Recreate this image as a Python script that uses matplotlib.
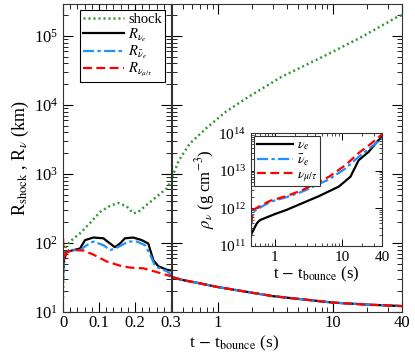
import numpy as np
import matplotlib
matplotlib.use("Agg")
import matplotlib.pyplot as plt
from matplotlib.ticker import AutoMinorLocator, LogLocator, NullFormatter, FixedLocator, FixedFormatter

plt.rcParams['font.family'] = ['Liberation Serif', 'DejaVu Serif']
plt.rcParams['mathtext.fontset'] = 'stix'
plt.rcParams['xtick.direction'] = 'in'
plt.rcParams['ytick.direction'] = 'in'
plt.rcParams['xtick.top'] = True
plt.rcParams['ytick.right'] = True

# ---- Data: early phase (linear time, s) ----
t_shock_early = [0.0, 0.001, 0.006, 0.019, 0.047, 0.075, 0.103, 0.131, 0.154, 0.177, 0.195, 0.209, 0.232, 0.26, 0.288, 0.3]
r_shock_early = [16, 40, 85, 105, 138, 195, 282, 347, 380, 339, 269, 282, 355, 468, 617, 780]

t_nue_early = [0.0, 0.002, 0.01, 0.029, 0.047, 0.061, 0.084, 0.112, 0.131, 0.144, 0.158, 0.172, 0.195, 0.219, 0.237, 0.251, 0.265, 0.288, 0.3]
r_nue_early = [40, 56, 74, 79, 83, 110, 120, 117, 98, 87, 98, 117, 120, 110, 98, 56, 46, 41, 40]

t_anue_early = [0.0, 0.002, 0.015, 0.047, 0.066, 0.084, 0.112, 0.131, 0.144, 0.163, 0.181, 0.205, 0.228, 0.242, 0.256, 0.288, 0.3]
r_anue_early = [29, 63, 79, 79, 93, 105, 93, 79, 83, 93, 105, 105, 93, 68, 46, 39, 35]

t_numu_early = [0.0, 0.002, 0.01, 0.029, 0.056, 0.084, 0.121, 0.158, 0.186, 0.223, 0.26, 0.3]
r_numu_early = [117, 56, 74, 79, 78, 68, 54, 47, 44, 43, 38, 33]

# ---- Data: late phase (log time, s) ----
t_shock_late = [0.4, 0.46, 0.57, 0.79, 1.17, 1.86, 3.61, 8.2, 17.1, 37.8, 40]
r_shock_late = [900, 1585, 2750, 4570, 7940, 13200, 25700, 50000, 93000, 195000, 200000]

t_nu_late = [0.4, 0.5, 0.7, 1.0, 2.0, 3.0, 5.0, 10.0, 20.0, 40.0]
r_nu_late = [32, 29, 26, 23, 19, 17, 15.5, 13.7, 12.8, 12.2]

# ---- Inset: neutrinosphere density ----
t_rho_nue = [0.44, 0.5, 0.54, 0.6, 1.0, 1.49, 2.5, 4.6, 9.0, 13.4, 17.8, 25.0, 35.0, 40.0]
lg_rho_nue = [11.3, 11.5, 11.61, 11.69, 11.85, 11.96, 12.13, 12.33, 12.58, 12.84, 13.28, 13.5, 13.81, 13.9]
t_rho_anue = [0.44, 0.47, 0.84, 1.5, 2.6, 6.4, 11.3, 17.8, 27.6, 40.0]
lg_rho_anue = [11.55, 11.91, 12.17, 12.3, 12.45, 12.77, 13.06, 13.37, 13.64, 13.86]
t_rho_numu = [0.44, 0.47, 0.84, 1.5, 2.6, 6.4, 11.3, 17.8, 27.6, 40.0]
lg_rho_numu = [11.6, 11.96, 12.2, 12.33, 12.49, 12.84, 13.15, 13.47, 13.73, 13.97]

early_xticks = [0, 0.1, 0.2, 0.3]
early_xticklabels = ['0', '0.1', '0.2', '0.3']
late_xticks = [1, 10, 40]
late_xticklabels = ['1', '10', '40']

C_SHOCK = '#339933'
C_NUE = 'black'
C_ANUE = '#1e90ff'
C_NUMU = '#ff0000'

fig = plt.figure(figsize=(4.15, 3.54), dpi=100)
axL = fig.add_axes([0.152, 0.1186, 0.260, 0.870])
axR = fig.add_axes([0.4145, 0.1186, 0.554, 0.870])

lw = 1.6
dash = (0, (4, 2))
dashdot = (0, (5, 1.5, 1.5, 1.5))
dot = (0, (0.8, 1.2))

axL.plot(t_shock_early, r_shock_early, color=C_SHOCK, ls=dot, lw=1.8, label='shock')
axL.plot(t_nue_early, r_nue_early, color=C_NUE, ls='-', lw=lw, label=r'$R_{\nu_e}$')
axL.plot(t_anue_early, r_anue_early, color=C_ANUE, ls=dashdot, lw=lw, label=r'$R_{\bar{\nu}_e}$')
axL.plot(t_numu_early, r_numu_early, color=C_NUMU, ls=dash, lw=lw, label=r'$R_{\nu_{\mu/\tau}}$')

axR.plot(t_shock_late, r_shock_late, color=C_SHOCK, ls=dot, lw=1.8)
axR.plot(t_nu_late, r_nu_late, color=C_NUE, ls='-', lw=lw)
axR.plot(t_nu_late, r_nu_late, color=C_ANUE, ls=dashdot, lw=lw)
axR.plot(t_nu_late, r_nu_late, color=C_NUMU, ls=dash, lw=lw)

ylim = (10, 2.9e5)
for ax in (axL, axR):
    ax.set_yscale('log')
    ax.set_ylim(*ylim)
    ax.tick_params(which='major', length=7, width=0.8)
    ax.tick_params(which='minor', length=3.5, width=0.6)
    ax.tick_params(axis='x', pad=2.5)
    ax.yaxis.set_major_locator(LogLocator(base=10, numticks=10))
    ax.yaxis.set_minor_locator(LogLocator(base=10, subs=np.arange(2, 10), numticks=10))
    for sp in ax.spines.values():
        sp.set_color('#333333')

axL.set_xlim(0, 0.3)
axL.set_xticks(early_xticks)
axL.set_xticklabels(early_xticklabels, fontsize=12)
axL.xaxis.set_minor_locator(AutoMinorLocator(5))
axL.tick_params(axis='y', labelsize=12)

axR.set_xscale('log')
axR.set_xlim(0.4, 40)
axR.xaxis.set_major_locator(FixedLocator(late_xticks))
axR.xaxis.set_major_formatter(FixedFormatter(late_xticklabels))
axR.xaxis.set_minor_locator(LogLocator(base=10, subs=np.arange(2, 10), numticks=10))
axR.xaxis.set_minor_formatter(NullFormatter())
axR.tick_params(axis='x', labelsize=12)
axR.set_yticklabels([])
axR.yaxis.set_minor_formatter(NullFormatter())

axL.set_ylabel(r'R$_{\rm shock}$ , R$_{\nu}$ (km)', fontsize=13, labelpad=2)
fig.text(0.565, 0.004, r't $-$ t$_{\rm bounce}$ (s)', fontsize=12.5, ha='center', va='bottom')

leg = axL.legend(loc='upper left', bbox_to_anchor=(0.13, 0.99), fontsize=10.5,
                 frameon=True, fancybox=False, edgecolor='black', framealpha=1,
                 handlelength=2.8, borderpad=0.2, labelspacing=0.0, handletextpad=0.3,
                 borderaxespad=0.2)
leg.get_frame().set_linewidth(0.8)

# ---- Inset ----
axI = fig.add_axes([0.605, 0.305, 0.316, 0.319])
axI.plot(t_rho_nue, 10**np.array(lg_rho_nue), color=C_NUE, ls='-', lw=lw, label=r'$\nu_e$')
axI.plot(t_rho_anue, 10**np.array(lg_rho_anue), color=C_ANUE, ls=dashdot, lw=lw, label=r'$\bar{\nu}_e$')
axI.plot(t_rho_numu, 10**np.array(lg_rho_numu), color=C_NUMU, ls=dash, lw=lw, label=r'$\nu_{\mu/\tau}$')
axI.set_xscale('log')
axI.set_yscale('log')
axI.set_xlim(0.44, 40)
axI.set_ylim(1e11, 1e14)
axI.xaxis.set_major_locator(FixedLocator(late_xticks))
axI.xaxis.set_major_formatter(FixedFormatter(late_xticklabels))
axI.xaxis.set_minor_locator(LogLocator(base=10, subs=np.arange(2, 10), numticks=10))
axI.xaxis.set_minor_formatter(NullFormatter())
axI.yaxis.set_major_locator(LogLocator(base=10, numticks=10))
axI.yaxis.set_minor_locator(LogLocator(base=10, subs=np.arange(2, 10), numticks=10))
axI.yaxis.set_minor_formatter(NullFormatter())
axI.tick_params(which='major', length=5, width=0.7, labelsize=11)
axI.tick_params(which='minor', length=2.5, width=0.5)
for sp in axI.spines.values():
    sp.set_color('#333333')
axI.set_xlabel(r't $-$ t$_{\rm bounce}$ (s)', fontsize=12, labelpad=1)
axI.set_ylabel(r'$\rho_\nu$ (g cm$^{-3}$)', fontsize=12, labelpad=1)
legI = axI.legend(loc='upper left', fontsize=10, frameon=True, fancybox=False,
                  edgecolor='#333333', framealpha=1, handlelength=2.6, borderpad=0.2,
                  labelspacing=0.0, handletextpad=0.3, borderaxespad=0.2)
legI.get_frame().set_linewidth(0.8)

fig.savefig('out.png', dpi=100)
